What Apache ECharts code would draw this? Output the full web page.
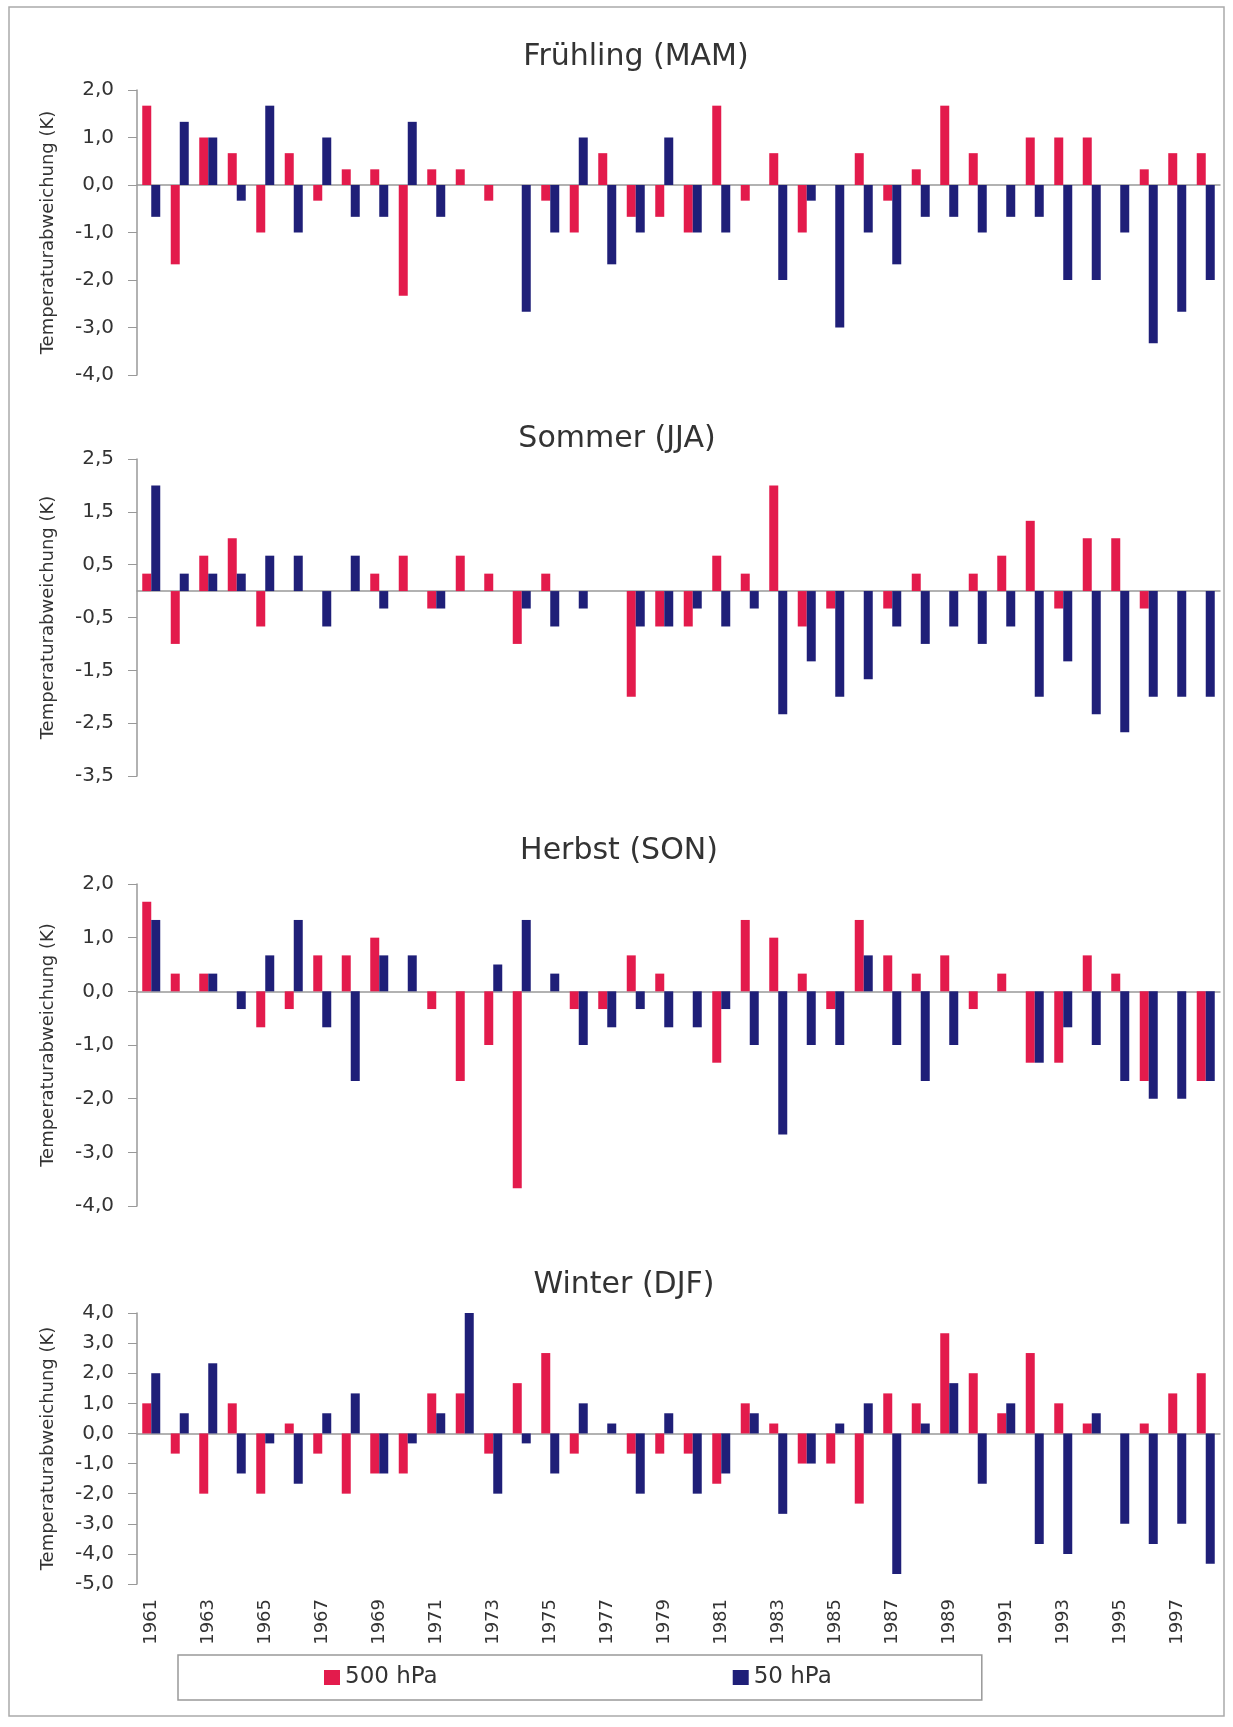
<!DOCTYPE html>
<html>
<head>
<meta charset="utf-8">
<script src="https://cdn.jsdelivr.net/npm/echarts@6/dist/echarts.min.js"></script>
<style>
  html, body { margin: 0; padding: 0; background: #fff; }
  #chart { width: 1233px; height: 1727px; }
</style>
</head>
<body>
<div id="chart"></div>
<script>
const years = ['1961', '1962', '1963', '1964', '1965', '1966', '1967', '1968', '1969', '1970',
  '1971', '1972', '1973', '1974', '1975', '1976', '1977', '1978', '1979', '1980',
  '1981', '1982', '1983', '1984', '1985', '1986', '1987', '1988', '1989', '1990',
  '1991', '1992', '1993', '1994', '1995', '1996', '1997', '1998']

const seasons = ['Frühling (MAM)', 'Sommer (JJA)', 'Herbst (SON)', 'Winter (DJF)']
const seriesNames = ['500 hPa', '50 hPa']

// Temperaturabweichung (K), 500 hPa und 50 hPa
const spring500 = [1.67, -1.67, 1.0, 0.67, -1.0, 0.67, -0.33, 0.33, 0.33, -2.33, 0.33, 0.33, -0.33, 0, -0.33, -1.0, 0.67, -0.67, -0.67, -1.0, 1.67, -0.33, 0.67, -1.0, 0, 0.67, -0.33, 0.33, 1.67, 0.67, 0, 1.0, 1.0, 1.0, 0, 0.33, 0.67, 0.67]
const spring50 = [-0.67, 1.33, 1.0, -0.33, 1.67, -1.0, 1.0, -0.67, -0.67, 1.33, -0.67, 0, 0, -2.67, -1.0, 1.0, -1.67, -1.0, 1.0, -1.0, -1.0, 0, -2.0, -0.33, -3.0, -1.0, -1.67, -0.67, -0.67, -1.0, -0.67, -0.67, -2.0, -2.0, -1.0, -3.33, -2.67, -2.0]

const summer500 = [0.33, -1.0, 0.67, 1.0, -0.67, 0, 0, 0, 0.33, 0.67, -0.33, 0.67, 0.33, -1.0, 0.33, 0, 0, -2.0, -0.67, -0.67, 0.67, 0.33, 2.0, -0.67, -0.33, 0, -0.33, 0.33, 0, 0.33, 0.67, 1.33, -0.33, 1.0, 1.0, -0.33, 0, 0]
const summer50 = [2.0, 0.33, 0.33, 0.33, 0.67, 0.67, -0.67, 0.67, -0.33, 0, -0.33, 0, 0, -0.33, -0.67, -0.33, 0, -0.67, -0.67, -0.33, -0.67, -0.33, -2.33, -1.33, -2.0, -1.67, -0.67, -1.0, -0.67, -1.0, -0.67, -2.0, -1.33, -2.33, -2.67, -2.0, -2.0, -2.0]

const autumn500 = [1.67, 0.33, 0.33, 0, -0.67, -0.33, 0.67, 0.67, 1.0, 0, -0.33, -1.67, -1.0, -3.67, 0, -0.33, -0.33, 0.67, 0.33, 0, -1.33, 1.33, 1.0, 0.33, -0.33, 1.33, 0.67, 0.33, 0.67, -0.33, 0.33, -1.33, -1.33, 0.67, 0.33, -1.67, 0, -1.67]
const autumn50 = [1.33, 0, 0.33, -0.33, 0.67, 1.33, -0.67, -1.67, 0.67, 0.67, 0, 0, 0.5, 1.33, 0.33, -1.0, -0.67, -0.33, -0.67, -0.67, -0.33, -1.0, -2.67, -1.0, -1.0, 0.67, -1.0, -1.67, -1.0, 0, 0, -1.33, -0.67, -1.0, -1.67, -2.0, -2.0, -1.67]

const winter500 = [1.0, -0.67, -2.0, 1.0, -2.0, 0.33, -0.67, -2.0, -1.33, -1.33, 1.33, 1.33, -0.67, 1.67, 2.67, -0.67, 0, -0.67, -0.67, -0.67, -1.67, 1.0, 0.33, -1.0, -1.0, -2.33, 1.33, 1.0, 3.33, 2.0, 0.67, 2.67, 1.0, 0.33, 0, 0.33, 1.33, 2.0]
const winter50 = [2.0, 0.67, 2.33, -1.33, -0.33, -1.67, 0.67, 1.33, -1.33, -0.33, 0.67, 4.0, -2.0, -0.33, -1.33, 1.0, 0.33, -2.0, 0.67, -2.0, -1.33, 0.67, -2.67, -1.0, 0.33, 1.0, -4.67, 0.33, 1.67, -1.67, 1.0, -3.67, -4.0, 0.67, -3.0, -3.67, -3.0, -4.33]

// y-Achsen: Bereich der Skala je Jahreszeit
const yMin = [-4, -3.5, -4, -5]
const yMax = [2, 2.5, 2, 4]

const values500 = [spring500, summer500, autumn500, winter500]
const values50 = [spring50, summer50, autumn50, winter50]

const font = 'DejaVu Sans'
const textColor = '#333'
const axisColor = '#999'
const red = '#e31b4c'
const blue = '#1f1f78'

// panel layout (px)
const gridTop = [90, 459, 884, 1313]
const gridHeight = [285, 317, 322, 271]
const titleX = [636, 617, 619, 624]
const titleY = [57, 439, 851, 1285]

const fmt = v => v.toFixed(1).replace('.', ',')

function buildOption() {
  const grid = [], xAxis = [], yAxis = [], series = []

  seasons.forEach((s, i) => {
    grid.push({ left: 137, right: 13, top: gridTop[i], height: gridHeight[i] })

    // zero line with ticks below
    xAxis.push({
      gridIndex: i,
      type: 'category',
      data: years,
      position: 'bottom',
      axisLine: { onZero: true, lineStyle: { color: axisColor, width: 1.5 } },
      axisTick: { length: 5, lineStyle: { color: axisColor } },
      axisLabel: { show: false },
    })

    yAxis.push({
      gridIndex: i,
      type: 'value',
      min: yMin[i],
      max: yMax[i],
      interval: 1,
      name: 'Temperaturabweichung (K)',
      nameLocation: 'middle',
      nameGap: 80,
      nameTextStyle: { fontFamily: font, fontSize: 18, color: textColor },
      axisLine: { show: true, lineStyle: { color: axisColor, width: 1.5 } },
      axisTick: { show: true, length: 9, lineStyle: { color: axisColor } },
      axisLabel: { formatter: fmt, margin: 23, fontFamily: font, fontSize: 20, color: textColor },
      splitLine: { show: false },
    })

    series.push({
      name: seriesNames[0],
      type: 'bar',
      xAxisIndex: i,
      yAxisIndex: i,
      data: values500[i],
      barWidth: 9,
      barGap: '0%',
      itemStyle: { color: red },
    })
    series.push({
      name: seriesNames[1],
      type: 'bar',
      xAxisIndex: i,
      yAxisIndex: i,
      data: values50[i],
      barWidth: 9,
      barGap: '0%',
      itemStyle: { color: blue },
    })
  })

  // upper half of the crossing ticks on the zero line
  seasons.forEach((s, i) => {
    xAxis.push({
      gridIndex: i,
      type: 'category',
      data: years,
      position: 'bottom',
      axisLine: { show: false, onZero: true },
      axisTick: { inside: true, length: 5, lineStyle: { color: axisColor } },
      axisLabel: { show: false },
    })
  })

  // year labels under the last panel
  xAxis.push({
    gridIndex: 3,
    type: 'category',
    data: years,
    position: 'bottom',
    axisLine: { show: false, onZero: false },
    axisTick: { show: false },
    axisLabel: { interval: 1, rotate: 90, margin: 15, fontFamily: font, fontSize: 18, color: textColor },
  })

  const graphic = [
    {
      type: 'rect',
      silent: true,
      shape: { x: 9, y: 7, width: 1215, height: 1709 },
      style: { fill: 'none', stroke: '#aaa', lineWidth: 1.5 },
    },
    ...seasons.map((s, i) => ({
      type: 'text',
      x: titleX[i],
      y: titleY[i],
      style: {
        text: s,
        fontFamily: font,
        fontSize: 30,
        fill: textColor,
        textAlign: 'center',
        textVerticalAlign: 'middle',
      },
    })),
  ]

  return {
    animation: false,
    backgroundColor: '#fff',
    grid,
    xAxis,
    yAxis,
    series,
    graphic,
    legend: {
      data: seriesNames,
      left: 178,
      top: 1655,
      icon: 'rect',
      itemWidth: 16,
      itemHeight: 15,
      itemGap: 295,
      padding: [11, 150, 11, 146],
      borderColor: axisColor,
      borderWidth: 1.5,
      textStyle: { fontFamily: font, fontSize: 23, color: textColor },
    },
  }
}

const chart = echarts.init(document.getElementById('chart'))
chart.setOption(buildOption())
</script>
</body>
</html>
